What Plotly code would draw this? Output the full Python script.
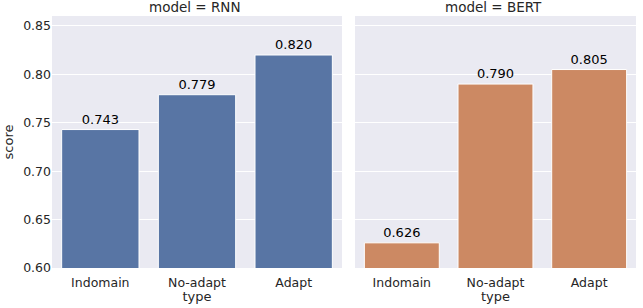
import plotly.graph_objects as go
from plotly.subplots import make_subplots

categories = ["Indomain", "No-adapt", "Adapt"]
rnn_scores = [0.743, 0.779, 0.820]
bert_scores = [0.626, 0.790, 0.805]
rnn_labels = ["0.743", "0.779", "0.820"]
bert_labels = ["0.626", "0.790", "0.805"]
y_ticks = [0.60, 0.65, 0.70, 0.75, 0.80, 0.85]
y_ticklabels = ["0.60", "0.65", "0.70", "0.75", "0.80", "0.85"]

FONT = "DejaVu Sans"
TXT = "#262626"

fig = make_subplots(rows=1, cols=2, shared_yaxes=True, horizontal_spacing=0.022,
                    subplot_titles=("model = RNN", "model = BERT"))

fig.add_trace(go.Bar(x=categories, y=rnn_scores, text=rnn_labels, textposition="outside",
                     marker=dict(color="#5875a4", line=dict(color="white", width=1)),
                     width=0.8, cliponaxis=False,
                     textfont=dict(family=FONT, size=13, color="black"), showlegend=False),
              row=1, col=1)
fig.add_trace(go.Bar(x=categories, y=bert_scores, text=bert_labels, textposition="outside",
                     marker=dict(color="#cc8963", line=dict(color="white", width=1)),
                     width=0.8, cliponaxis=False,
                     textfont=dict(family=FONT, size=13, color="black"), showlegend=False),
              row=1, col=2)

fig.update_layout(
    width=643, height=308,
    margin=dict(l=52, r=7, t=16, b=40, autoexpand=False),
    paper_bgcolor="white", plot_bgcolor="#eaeaf2",
    font=dict(family=FONT, size=13, color=TXT),
    bargap=0.2,
)
for ann in fig.layout.annotations:
    ann.font = dict(family=FONT, size=13.5, color=TXT)
    ann.yshift = -1

fig.update_xaxes(showgrid=False, ticks="", showline=False, zeroline=False, automargin=False,
                 ticklabelstandoff=5,
                 title=dict(text="type", font=dict(family=FONT, size=13, color=TXT), standoff=3),
                 tickfont=dict(family=FONT, size=12.5, color=TXT))
fig.update_yaxes(range=[0.6, 0.8603], tickvals=y_ticks, ticktext=y_ticklabels, automargin=False,
                 showgrid=True, gridcolor="white", gridwidth=1, zeroline=False, showline=False,
                 ticks="", tickfont=dict(family=FONT, size=12.5, color=TXT))
fig.update_yaxes(title=dict(text="score", font=dict(family=FONT, size=13, color=TXT), standoff=6),
                 row=1, col=1)
fig.update_xaxes(domain=[0, 0.4966], row=1, col=1)
fig.update_xaxes(domain=[0.5188, 1.0], row=1, col=2)

fig.write_html("out.html", config={"displayModeBar": False},
               post_script="document.body.style.margin='0';")
